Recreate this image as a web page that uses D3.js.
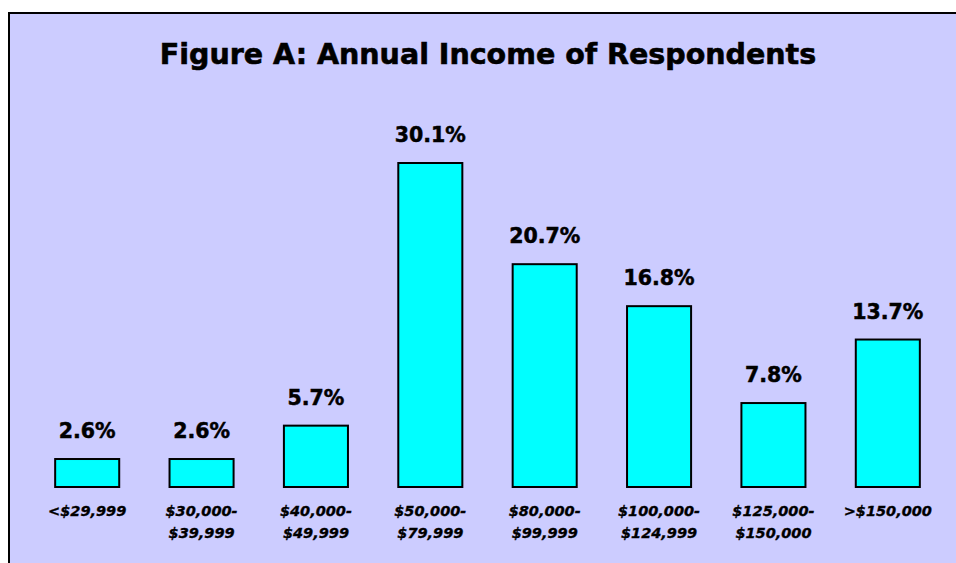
<!DOCTYPE html>
<html><head><meta charset="utf-8">
<script src="https://cdn.jsdelivr.net/npm/d3@7"></script>
<style>html,body{margin:0;padding:0;background:#fff;}svg{display:block;}</style>
</head><body>
<script>
const categories = ["<$29,999", "$30,000-\n$39,999", "$40,000-\n$49,999", "$50,000-\n$79,999", "$80,000-\n$99,999", "$100,000-\n$124,999", "$125,000-\n$150,000", ">$150,000"];
const values = [2.6, 2.6, 5.7, 30.1, 20.7, 16.8, 7.8, 13.7];
const valueLabels = ["2.6%", "2.6%", "5.7%", "30.1%", "20.7%", "16.8%", "7.8%", "13.7%"];
const title = "Figure A: Annual Income of Respondents";

const W = 956, H = 563;
const font = "Verdana, 'DejaVu Sans', sans-serif";
const svg = d3.select("body").append("svg").attr("width", W).attr("height", H);

svg.append("rect").attr("x", 9).attr("y", 13).attr("width", W + 20).attr("height", H + 20)
  .attr("fill", "#CCCCFF").attr("stroke", "#000").attr("stroke-width", 2);

svg.append("text").attr("x", 488).attr("y", 64).attr("text-anchor", "middle")
  .attr("font-family", font).attr("font-weight", "bold").attr("font-size", 28.5)
  .attr("fill", "#000").attr("stroke", "#000").attr("stroke-width", 0.6).text(title);

const x = d3.scaleBand().domain(categories).range([30, 945]).paddingInner(0.44).paddingOuter(0.22);
const y = d3.scaleLinear().domain([0, 35]).range([487, 487 - 35 * 10.764]);

const g = svg.append("g");
g.selectAll("rect.bar").data(values).join("rect").attr("class", "bar")
  .attr("x", (d, i) => x(categories[i])).attr("width", x.bandwidth())
  .attr("y", d => y(d)).attr("height", d => y(0) - y(d))
  .attr("fill", "#00FFFF").attr("stroke", "#000").attr("stroke-width", 2);

g.selectAll("text.val").data(values).join("text").attr("class", "val")
  .attr("x", (d, i) => x(categories[i]) + x.bandwidth() / 2)
  .attr("y", d => y(d) - 21).attr("text-anchor", "middle")
  .attr("font-family", font).attr("font-weight", "bold").attr("font-size", 20.5)
  .attr("stroke", "#000").attr("stroke-width", 0.5)
  .text((d, i) => valueLabels[i]);

const xAxis = d3.axisBottom(x).tickSize(0).tickPadding(0);
const ax = svg.append("g").attr("transform", "translate(0,487)").call(xAxis);
ax.select(".domain").remove();
ax.selectAll(".tick text").remove();
ax.selectAll(".tick").each(function(d) {
  const lines = d.split("\n");
  const t = d3.select(this).append("text").attr("text-anchor", "middle")
    .attr("font-family", font).attr("font-weight", "bold").attr("font-style", "italic")
    .attr("font-size", 14.5).attr("fill", "#000").attr("stroke", "#000").attr("stroke-width", 0.35);
  lines.forEach((l, k) => t.append("tspan").attr("x", 0).attr("y", 29 + k * 22).text(l));
});
</script>
</body></html>
